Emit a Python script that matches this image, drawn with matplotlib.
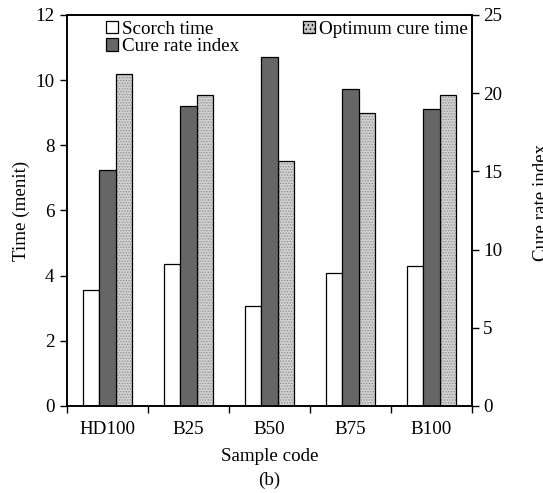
import matplotlib
matplotlib.use("Agg")
import matplotlib.pyplot as plt
from matplotlib.patches import Patch
import numpy as np

# data
samples = ["HD100", "B25", "B50", "B75", "B100"]
scorch_time = [3.55, 4.37, 3.07, 4.08, 4.30]
optimum_cure_time = [10.18, 9.55, 7.53, 9.00, 9.55]
cure_rate_index = [15.1, 19.2, 22.3, 20.25, 19.0]

plt.rcParams["font.family"] = ["Liberation Serif", "DejaVu Serif"]
plt.rcParams["font.size"] = 13.7
plt.rcParams["hatch.linewidth"] = 0.6

fig = plt.figure(figsize=(5.43, 4.93), dpi=100)
ax = fig.add_axes([0.1234, 0.1765, 0.7459, 0.7931])
ax2 = ax.twinx()

x = np.arange(len(samples))
w = 0.2

# scorch time (left axis)
ax.bar(x - w, scorch_time, w, color="white", edgecolor="black", linewidth=0.9)

# optimum cure time: dotted fill, then black outline
ax.bar(x + w, optimum_cure_time, w, color="#d0d0d0", edgecolor="#8c8c8c",
       hatch="......", linewidth=0)
ax.bar(x + w, optimum_cure_time, w, color="none", edgecolor="black", linewidth=0.9)

# cure rate index (right axis)
ax2.bar(x, cure_rate_index, w, color="#666666", edgecolor="black", linewidth=0.9)

ax.set_xlim(-0.5, len(samples) - 0.5)
ax.set_ylim(0, 12)
ax.set_yticks(np.arange(0, 13, 2))
ax2.set_ylim(0, 25)
ax2.set_yticks(np.arange(0, 26, 5))

# ticks between categories, labels at category centres
ax.set_xticks(np.arange(-0.5, len(samples), 1.0))
ax.set_xticklabels([])
ax.set_xticks(x, minor=True)
ax.set_xticklabels(samples, minor=True)
ax.tick_params(axis="x", which="major", direction="out", length=5, width=1)
ax.tick_params(axis="x", which="minor", length=0, pad=11)
ax.tick_params(axis="y", direction="out", length=5, width=1, pad=4)
ax2.tick_params(axis="y", direction="out", length=5, width=1, pad=3)

for a in (ax, ax2):
    for s in a.spines.values():
        s.set_linewidth(1.2)

ax.set_xlabel("Sample code", labelpad=7)
ax.set_ylabel("Time (menit)", labelpad=4)
ax2.set_ylabel("Cure rate index")
# sits at the figure's right edge, partly cut as in the original
ax2.yaxis.set_label_coords(1.15, 0.52)

fig.text(0.496, 0.026, "(b)", ha="center", va="center")

handles = [
    Patch(facecolor="white", edgecolor="black", linewidth=0.9),
    Patch(facecolor="#666666", edgecolor="black", linewidth=0.9),
    Patch(facecolor="#c4c4c4", edgecolor="black", hatch="....", linewidth=0.9),
]
labels = ["Scorch time", "Cure rate index", "Optimum cure time"]
ax2.legend(handles, labels, ncol=2, loc="upper left", bbox_to_anchor=(0.097, 0.985),
           frameon=False, handlelength=0.6, handleheight=0.6, handletextpad=0.2,
           labelspacing=0.02, columnspacing=3.4, borderpad=0, borderaxespad=0)

fig.savefig("out.png", dpi=100)
